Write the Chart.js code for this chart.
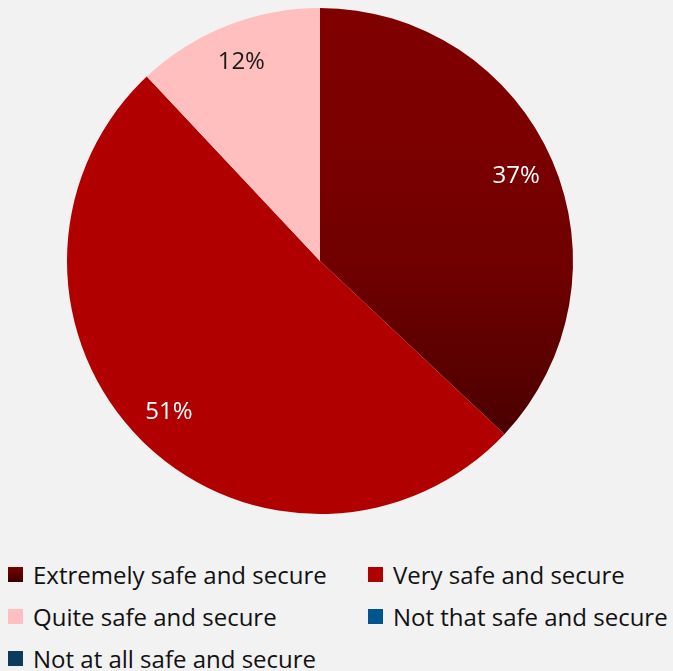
<!DOCTYPE html>
<html>
<head>
<meta charset="utf-8">
<script src="https://cdn.jsdelivr.net/npm/chart.js@4"></script>
<style>
  body { margin: 0; background: #f2f2f2; width: 673px; height: 671px; overflow: hidden; font-family: "Open Sans", sans-serif; }
  #wrap { position: absolute; left: 0; top: 0; width: 640px; height: 522px; }
  #legend { position: absolute; left: 8px; top: 557px; display: grid; grid-template-columns: 360px 310px; row-gap: 8px; }
  .item { display: flex; align-items: center; font-size: 24px; color: #111; height: 34px; white-space: nowrap; }
  .box { width: 15px; height: 15px; margin-right: 10px; flex: none; }
</style>
</head>
<body>
<div id="wrap"><canvas id="pie"></canvas></div>
<div id="legend"></div>
<script>
const categories = ['Extremely safe and secure', 'Very safe and secure', 'Quite safe and secure', 'Not that safe and secure', 'Not at all safe and secure']
const values = [37, 51, 12, 0, 0]
const colors = ['#800000', '#b00000', '#ffbfbf', '#00558f', '#0e3a5c']
const labelColors = ['#ffffff', '#ffffff', '#1a1a1a', '#ffffff', '#ffffff']

// first slice fades darker towards the bottom
function sliceFill(ctx) {
    const i = ctx.dataIndex
    const area = ctx.chart.chartArea
    if (i != 0 || !area) return colors[i]
    const g = ctx.chart.ctx.createLinearGradient(0, area.top, 0, area.top + area.height * 0.84)
    g.addColorStop(0, '#800000')
    g.addColorStop(0.3, '#7c0000')
    g.addColorStop(0.6, '#700000')
    g.addColorStop(0.85, '#5a0000')
    g.addColorStop(1, '#4b0000')
    return g
}

// percentages written inside each slice
const sliceLabels = {
    id: 'sliceLabels',
    afterDatasetsDraw(chart) {
        const c = chart.ctx
        const meta = chart.getDatasetMeta(0)
        c.save()
        c.font = '24px "Open Sans"'
        c.textAlign = 'center'
        c.textBaseline = 'middle'
        meta.data.forEach((arc, i) => {
            if (!values[i]) return
            const mid = (arc.startAngle + arc.endAngle) / 2
            const r = arc.outerRadius * 0.845
            c.fillStyle = labelColors[i]
            c.fillText(values[i] + '%', arc.x + Math.cos(mid) * r, arc.y + Math.sin(mid) * r)
        })
        c.restore()
    }
}

new Chart(document.getElementById('pie'), {
    type: 'pie',
    data: {
        labels: categories,
        datasets: [{
            data: values,
            backgroundColor: sliceFill,
            borderWidth: 0
        }]
    },
    options: {
        responsive: true,
        maintainAspectRatio: false,
        animation: false,
        layout: { padding: 8 },
        plugins: { legend: { display: false }, tooltip: { enabled: false } }
    },
    plugins: [sliceLabels]
})

const legend = document.getElementById('legend')
categories.forEach((name, i) => {
    const item = document.createElement('div')
    item.className = 'item'
    const box = document.createElement('span')
    box.className = 'box'
    box.style.background = i == 0 ? 'linear-gradient(#7a0000, #3a0000)' : colors[i]
    item.appendChild(box)
    item.appendChild(document.createTextNode(name))
    legend.appendChild(item)
})
</script>
</body>
</html>
